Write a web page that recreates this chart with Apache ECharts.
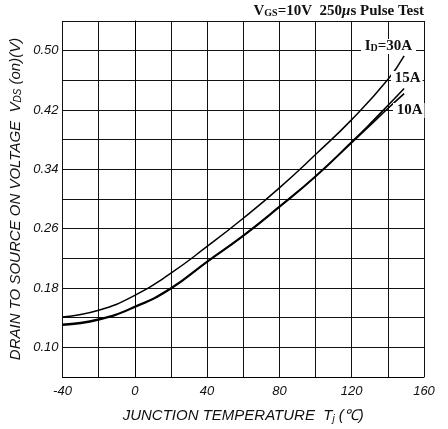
<!DOCTYPE html>
<html>
<head>
<meta charset="utf-8">
<script src="https://cdn.jsdelivr.net/npm/echarts@6/dist/echarts.min.js"></script>
<style>html,body{margin:0;padding:0;background:#fff}#c{width:448px;height:429px}</style>
</head>
<body>
<div id="c"></div>
<script>
// Junction temperature (°C)
const temps30 = [-40, -20, 0, 20, 40, 60, 80, 100, 120, 140, 149];
const vds30A  = [0.141, 0.150, 0.170, 0.200, 0.236, 0.274, 0.315, 0.360, 0.407, 0.461, 0.493];
const temps15 = [-40, -20, 0, 20, 40, 60, 80, 100, 120, 130, 140, 149];
const vds15A  = [0.131, 0.138, 0.155, 0.180, 0.216, 0.251, 0.290, 0.331, 0.377, 0.401, 0.426, 0.449];
const temps10 = [-40, -20, 0, 20, 40, 60, 80, 100, 120, 130, 140, 149];
const vds10A  = [0.130, 0.137, 0.154, 0.179, 0.215, 0.250, 0.289, 0.330, 0.376, 0.399, 0.422, 0.442];
const xTicks = [-40, 0, 40, 80, 120, 160];
const yTicks = [0.10, 0.18, 0.26, 0.34, 0.42, 0.50];
const curveLabels = ['30A', '15A', '10A'];

const chart = echarts.init(document.getElementById('c'));
const zip = (xs, ys) => xs.map((x, i) => [x, ys[i]]);
const serif = '"Liberation Serif", "Times New Roman", serif';
const sans = '"Liberation Sans", Arial, sans-serif';
const lineSeries = (name, data, w) => ({
  name, type: 'line', data, smooth: 0.5, showSymbol: false, silent: true,
  lineStyle: { color: '#000', width: w }
});
chart.setOption({
  animation: false,
  grid: { left: 61, right: 24, top: 21, bottom: 46 },
  xAxis: {
    type: 'value', min: -40, max: 160, interval: 20,
    axisLine: { show: true, lineStyle: { color: '#000', width: 1 } },
    axisTick: { show: false },
    splitLine: { show: true, lineStyle: { color: '#111', width: 1 } },
    axisLabel: {
      color: '#111', fontFamily: sans, fontStyle: 'italic', fontSize: 13, margin: 8,
      formatter: v => xTicks.includes(v) ? String(v) : ''
    },
    name: '{n|JUNCTION TEMPERATURE  T}{s|j}{n| (℃)}',
    nameLocation: 'middle', nameGap: 30,
    nameTextStyle: {
      rich: {
        n: { fontFamily: sans, fontStyle: 'italic', fontSize: 15, color: '#111' },
        s: { fontFamily: sans, fontStyle: 'italic', fontSize: 10, color: '#111', padding: [7, 0, 0, 0] }
      }
    }
  },
  yAxis: {
    type: 'value', min: 0.06, max: 0.54, interval: 0.04,
    axisLine: { show: true, lineStyle: { color: '#000', width: 1 } },
    axisTick: { show: false },
    splitLine: { show: true, lineStyle: { color: '#111', width: 1 } },
    axisLabel: {
      color: '#111', fontFamily: sans, fontStyle: 'italic', fontSize: 13, margin: 4,
      formatter: v => yTicks.some(t => Math.abs(t - v) < 1e-6) ? v.toFixed(2) : ''
    },
    name: '{n|DRAIN TO SOURCE ON VOLTAGE  V}{s|DS}{n| (on)(V)}',
    nameLocation: 'middle', nameGap: 39, nameRotate: 90, nameMoveOverlap: false,
    nameTextStyle: {
      rich: {
        n: { fontFamily: sans, fontStyle: 'italic', fontSize: 15, color: '#111' },
        s: { fontFamily: sans, fontStyle: 'italic', fontSize: 10, color: '#111', padding: [6, 0, 0, 0] }
      }
    }
  },
  series: [
    lineSeries('30A', zip(temps30, vds30A), 1.5),
    lineSeries('15A', zip(temps15, vds15A), 1.6),
    lineSeries('10A', zip(temps10, vds10A), 1.6)
  ],
  graphic: [
    {
      type: 'text', right: 24, top: 4,
      style: {
        text: '{b|V}{s|GS}{b|=10V  250}{i|μ}{b|s Pulse Test}',
        rich: {
          b: { fontFamily: serif, fontWeight: 'bold', fontSize: 15, fill: '#111' },
          s: { fontFamily: serif, fontWeight: 'bold', fontSize: 10, fill: '#111', padding: [4, 0, 0, 0] },
          i: { fontFamily: serif, fontWeight: 'bold', fontStyle: 'italic', fontSize: 15, fill: '#111' }
        }
      }
    },
    {
      type: 'text', left: 361, top: 39, z: 100,
      style: {
        text: '{b| I}{s|D}{b|=' + curveLabels[0] + ' }',
        backgroundColor: '#fff',
        rich: {
          b: { fontFamily: serif, fontWeight: 'bold', fontSize: 15, fill: '#111', backgroundColor: '#fff' },
          s: { fontFamily: serif, fontWeight: 'bold', fontSize: 10, fill: '#111', backgroundColor: '#fff', padding: [4, 0, 0, 0] }
        }
      }
    },
    {
      type: 'text', left: 391, top: 71, z: 100,
      style: { text: ' ' + curveLabels[1], fontFamily: serif, fontWeight: 'bold', fontSize: 15, fill: '#111', backgroundColor: '#fff', padding: [0, 2, 0, 0] }
    },
    {
      type: 'text', left: 393, top: 103, z: 100,
      style: { text: ' ' + curveLabels[2], fontFamily: serif, fontWeight: 'bold', fontSize: 15, fill: '#111', backgroundColor: '#fff', padding: [0, 2, 0, 0] }
    }
  ]
});
</script>
</body>
</html>
